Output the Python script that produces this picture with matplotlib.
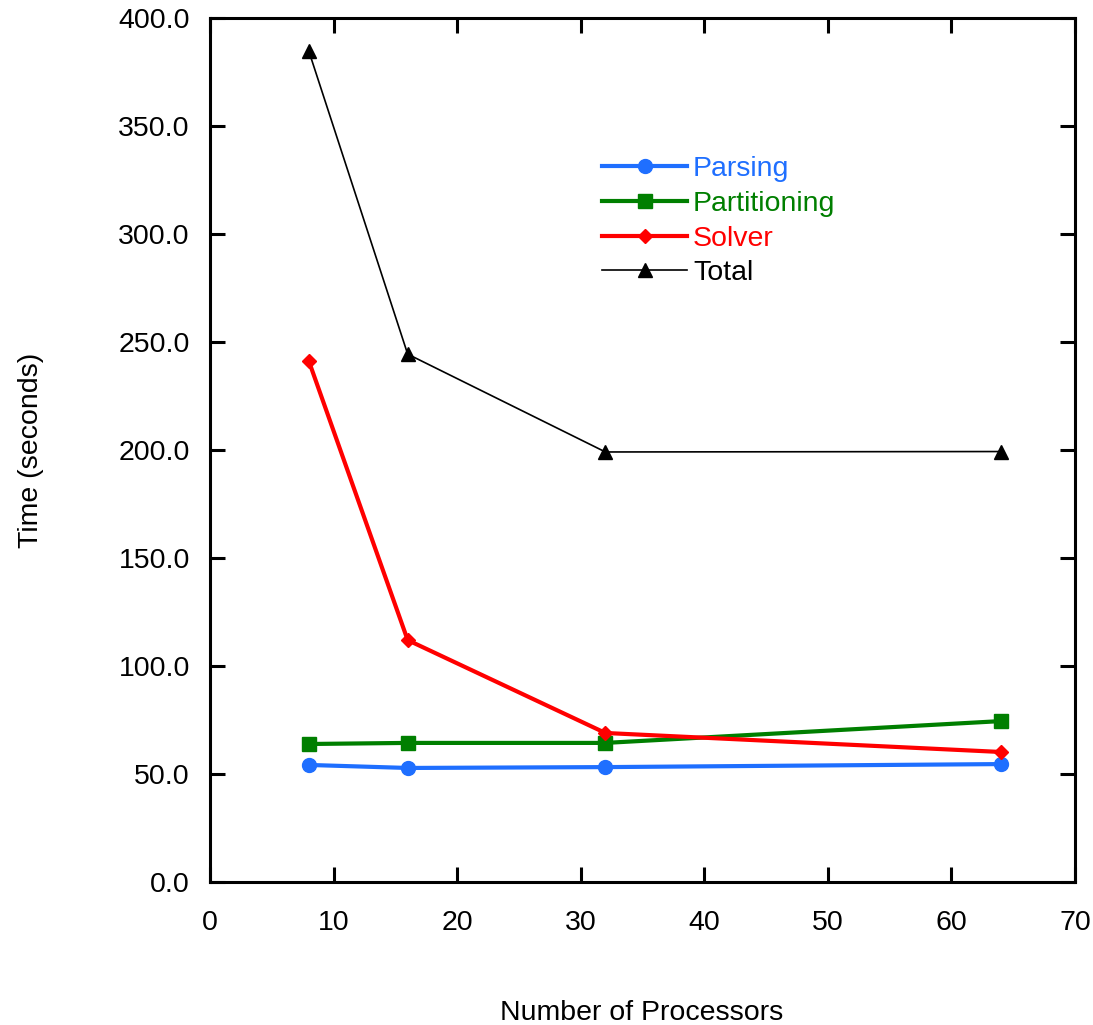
import matplotlib
matplotlib.use("Agg")
import matplotlib.pyplot as plt
from matplotlib.ticker import FormatStrFormatter

plt.rcParams['font.family'] = ['Liberation Sans', 'DejaVu Sans']

# processors vs time (seconds)
procs = [8, 16, 32, 64]
parsing = [54.2, 52.8, 53.2, 54.6]
partitioning = [63.9, 64.4, 64.4, 74.5]
solver = [241.2, 112.0, 69.0, 60.2]
total = [384.7, 244.4, 199.1, 199.3]

x_ticks = [0, 10, 20, 30, 40, 50, 60, 70]
y_ticks = [0, 50, 100, 150, 200, 250, 300, 350, 400]

blue = '#1f6fff'
green = '#007f00'
red = '#ff0000'

fs = 20.5

fig = plt.figure(figsize=(10.93, 10.25), dpi=100)
ax = fig.add_axes([0.1921, 0.1395, 0.7914, 0.8429])

ax.plot(procs, parsing, color=blue, lw=3, marker='o', ms=10, label='Parsing')
ax.plot(procs, partitioning, color=green, lw=3, marker='s', ms=10, label='Partitioning')
ax.plot(procs, solver, color=red, lw=3, marker='D', ms=7, label='Solver')
ax.plot(procs, total, color='black', lw=1.2, marker='^', ms=10, label='Total')

ax.set_xlim(0, 70)
ax.set_ylim(0, 400)
ax.set_xticks(x_ticks)
ax.set_yticks(y_ticks)
ax.yaxis.set_major_formatter(FormatStrFormatter('%.1f'))

for s in ax.spines.values():
    s.set_linewidth(2.2)
ax.tick_params(direction='in', length=11, width=2.2, top=True, right=True,
               labelsize=fs)
ax.tick_params(axis='x', pad=20)
ax.tick_params(axis='y', pad=14.5)

fig.text(0.587, 0.005, 'Number of Processors', ha='center', va='baseline', fontsize=fs)
fig.text(0.028, 0.561, 'Time (seconds)', ha='center', va='center', rotation=90, fontsize=fs)

leg = ax.legend(loc='upper left', bbox_to_anchor=(0.44, 0.853), frameon=False,
                fontsize=fs, handlelength=3.0, handletextpad=0.2,
                labelspacing=0.3, borderaxespad=0)
for txt, c in zip(leg.get_texts(), [blue, green, red, 'black']):
    txt.set_color(c)

fig.savefig('out.png', dpi=100)
